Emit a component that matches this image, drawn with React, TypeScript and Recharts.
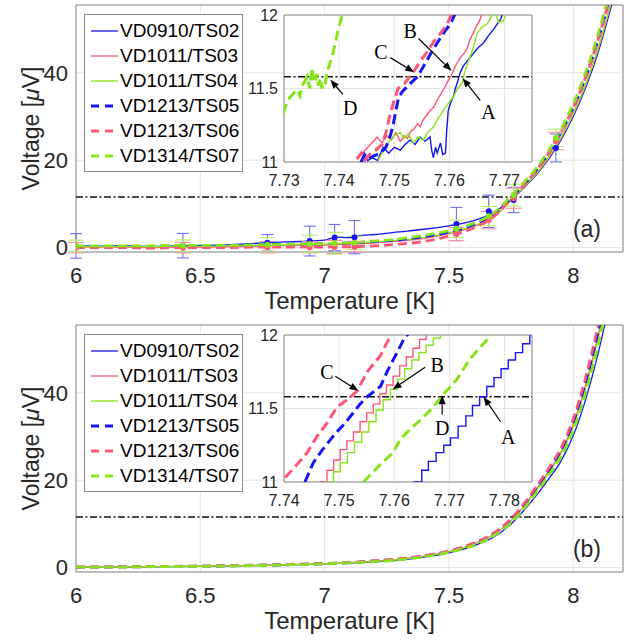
import React from "react"
import {
  ComposedChart,
  Line,
  Scatter,
  ErrorBar,
  XAxis,
  YAxis,
  CartesianGrid,
  ReferenceLine,
  ReferenceArea,
  ReferenceDot,
  Legend,
} from "recharts"

const FONT = '"Liberation Sans", Arial, Helvetica, sans-serif'
const SERIF = '"Liberation Serif", "Times New Roman", serif'
const INK = "#262626"
const BLUE = "#1414f5"
const PINK = "#ff5577"
const GREEN = "#86e51a"

const SERIES = [
  { key: "TS02", name: "VD0910/TS02", color: BLUE, dashed: false },
  { key: "TS03", name: "VD1011/TS03", color: PINK, dashed: false },
  { key: "TS04", name: "VD1011/TS04", color: GREEN, dashed: false },
  { key: "TS05", name: "VD1213/TS05", color: BLUE, dashed: true },
  { key: "TS06", name: "VD1213/TS06", color: PINK, dashed: true },
  { key: "TS07", name: "VD1314/TS07", color: GREEN, dashed: true },
]

const THRESHOLD = 11.58

// main panels: temperature grid [K] and voltage [uV]
const TEMP = [6.0, 6.1, 6.2, 6.3, 6.4, 6.5, 6.6, 6.7, 6.8, 6.9, 7.0, 7.05, 7.1, 7.15, 7.2, 7.3, 7.4, 7.5, 7.55, 7.6, 7.65, 7.7, 7.75, 7.8, 7.85, 7.9, 7.95, 8.0, 8.05, 8.1, 8.15, 8.2]

const A_TS02 = [0.4, 0.35, 0.4, 0.3, 0.4, 0.5, 0.6, 0.9, 1.2, 1.4, 1.7, 2.4, 2.3, 2.8, 3.0, 3.6, 4.2, 5.0, 5.5, 6.2, 7.2, 8.8, 10.9, 13.6, 16.6, 20.2, 24.6, 30.0, 36.6, 44.7, 54.6, 66.0]
const A_TS03 = [0.1, 0.1, 0.1, 0.0, 0.1, 0.1, 0.2, 0.3, 0.4, 0.5, 0.6, 0.7, 0.8, 0.9, 1.1, 1.5, 2.1, 3.2, 3.9, 4.8, 6.0, 7.9, 10.9, 13.7, 16.8, 20.5, 25.0, 30.5, 37.2, 45.4, 55.5, 67.0]
const A_TS04 = [0.2, 0.2, 0.25, 0.2, 0.3, 0.3, 0.4, 0.5, 0.6, 0.7, 0.8, 0.9, 1.0, 1.1, 1.3, 1.7, 2.3, 3.4, 4.1, 5.0, 6.2, 8.0, 11.0, 13.8, 16.9, 20.6, 25.1, 30.6, 37.3, 45.5, 55.6, 67.2]
const A_TS05 = [0.3, 0.3, 0.3, 0.3, 0.4, 0.4, 0.5, 0.6, 0.7, 0.8, 0.9, 1.0, 1.1, 1.2, 1.4, 1.8, 2.5, 3.6, 4.3, 5.3, 6.6, 8.6, 11.4, 14.3, 17.6, 21.5, 26.3, 32.0, 39.0, 47.6, 58.0, 70.0]
const A_TS06 = [0.0, 0.0, 0.0, -0.1, 0.0, 0.0, 0.0, 0.1, 0.1, 0.1, 0.1, 0.2, 0.2, 0.3, 0.4, 0.8, 1.4, 2.6, 3.4, 4.5, 5.9, 8.1, 11.3, 14.3, 17.6, 21.5, 26.3, 32.0, 39.0, 47.6, 58.0, 70.0]
const A_TS07 = [0.4, 0.4, 0.4, 0.4, 0.5, 0.5, 0.5, 0.6, 0.7, 0.8, 0.9, 1.1, 1.1, 1.3, 1.5, 2.0, 2.8, 3.9, 4.6, 5.6, 6.9, 8.9, 11.8, 14.8, 18.1, 22.1, 27.0, 32.9, 40.1, 48.9, 59.5, 72.0]

const B_TS02 = [0.1, 0.1, 0.15, 0.2, 0.25, 0.3, 0.35, 0.45, 0.55, 0.7, 0.85, 0.95, 1.05, 1.2, 1.35, 1.75, 2.4, 3.4, 4.1, 5.0, 6.1, 7.7, 10.0, 13.0, 16.4, 20.2, 24.3, 30.2, 38.5, 49.0, 62.0, 78.0]
const B_TS03 = [0.12, 0.12, 0.17, 0.22, 0.27, 0.33, 0.4, 0.5, 0.6, 0.75, 0.9, 1.0, 1.12, 1.28, 1.45, 1.9, 2.6, 3.65, 4.4, 5.4, 6.65, 8.4, 10.8, 14.0, 17.8, 21.9, 26.4, 32.8, 41.8, 53.0, 67.0, 84.0]
const B_TS04 = [0.1, 0.12, 0.16, 0.21, 0.26, 0.32, 0.38, 0.48, 0.58, 0.72, 0.88, 0.98, 1.1, 1.25, 1.42, 1.85, 2.55, 3.6, 4.35, 5.3, 6.55, 8.3, 10.7, 13.8, 17.5, 21.6, 26.0, 32.3, 41.2, 52.3, 66.0, 83.0]
const B_TS05 = [0.1, 0.12, 0.18, 0.22, 0.28, 0.33, 0.4, 0.5, 0.6, 0.75, 0.9, 1.0, 1.15, 1.3, 1.5, 1.95, 2.65, 3.7, 4.5, 5.5, 6.8, 8.5, 11.0, 14.3, 18.1, 22.2, 26.8, 33.3, 42.5, 54.0, 68.0, 85.0]
const B_TS06 = [0.15, 0.15, 0.2, 0.25, 0.3, 0.35, 0.45, 0.55, 0.65, 0.8, 0.95, 1.05, 1.2, 1.35, 1.55, 2.0, 2.7, 3.8, 4.6, 5.6, 6.9, 8.7, 11.2, 14.5, 18.4, 22.6, 27.3, 34.0, 43.5, 55.5, 70.0, 88.0]
const B_TS07 = [0.1, 0.1, 0.15, 0.2, 0.25, 0.3, 0.36, 0.46, 0.56, 0.7, 0.86, 0.96, 1.08, 1.22, 1.38, 1.8, 2.45, 3.5, 4.2, 5.1, 6.3, 8.0, 10.3, 13.4, 17.0, 21.0, 25.3, 31.4, 40.0, 51.0, 64.0, 80.0]

// error bars, panel (a)
const ERR_T = [6.0, 6.43, 6.77, 6.94, 7.04, 7.12, 7.53, 7.66, 7.76, 7.93]
const ERR_TS02_V = [0.4, 0.45, 1.1, 1.5, 2.3, 2.4, 5.4, 8.3, 10.9, 22.8]
const ERR_TS02_E = [2.8, 2.8, 1.9, 3.4, 3.0, 3.8, 3.8, 3.7, 2.9, 3.2]
const ERR_TS06_V = [0.0, 0.0, 0.1, 0.1, 0.15, 0.2, 3.1, 6.3, 11.3, 24.4]
const ERR_TS06_E = [1.2, 1.2, 1.3, 1.3, 1.5, 1.2, 1.5, 2.0, 2.3, 2.0]
const ERR_TS07_V = [0.4, 0.45, 0.65, 0.85, 1.0, 1.1, 4.3, 7.2, 12.0, 25.1]
const ERR_TS07_E = [1.3, 1.3, 1.6, 2.0, 2.5, 1.5, 2.0, 2.2, 2.5, 2.0]

// inset (a): [temperature, voltage]
const IA_TS02 = [[7.7438, 11.0], [7.7445, 11.04], [7.7452, 11.01], [7.746, 11.03], [7.747, 11.01], [7.748, 11.1], [7.749, 11.06], [7.75, 11.1], [7.7511, 11.08], [7.752, 11.12], [7.7529, 11.15], [7.7538, 11.12], [7.7547, 11.17], [7.7556, 11.14], [7.7565, 11.17], [7.7568, 11.08], [7.7571, 11.03], [7.7575, 11.1], [7.7578, 11.06], [7.7584, 11.13], [7.7588, 11.05], [7.7593, 11.06], [7.7595, 11.2], [7.7598, 11.35], [7.7602, 11.4], [7.7607, 11.44], [7.7611, 11.5], [7.7616, 11.56], [7.762, 11.61], [7.7625, 11.65], [7.7635, 11.7], [7.7644, 11.74], [7.7653, 11.78], [7.7662, 11.81], [7.7671, 11.86], [7.768, 11.9], [7.7687, 11.94], [7.7693, 11.97], [7.7698, 12.02]]
const IA_TS03 = [[7.7433, 11.03], [7.7442, 11.06], [7.7452, 11.1], [7.7462, 11.14], [7.7469, 11.17], [7.7478, 11.13], [7.7487, 11.18], [7.7495, 11.15], [7.7503, 11.2], [7.7511, 11.14], [7.7518, 11.18], [7.7524, 11.16], [7.753, 11.21], [7.7535, 11.22], [7.7542, 11.26], [7.7547, 11.24], [7.7553, 11.29], [7.7559, 11.32], [7.7565, 11.35], [7.7571, 11.37], [7.7578, 11.42], [7.7584, 11.46], [7.7589, 11.49], [7.7596, 11.54], [7.7605, 11.6], [7.7612, 11.66], [7.762, 11.71], [7.7627, 11.74], [7.7633, 11.78], [7.7638, 11.84], [7.7644, 11.88], [7.765, 11.93], [7.7656, 11.97], [7.766, 12.02]]
const IA_TS04 = [[7.7471, 11.01], [7.7478, 11.06], [7.7485, 11.12], [7.7493, 11.15], [7.75, 11.18], [7.7511, 11.2], [7.7518, 11.16], [7.7525, 11.19], [7.7535, 11.13], [7.7543, 11.17], [7.7553, 11.15], [7.756, 11.2], [7.7566, 11.22], [7.7571, 11.24], [7.758, 11.3], [7.7589, 11.35], [7.7598, 11.4], [7.7607, 11.44], [7.7615, 11.5], [7.7624, 11.54], [7.7627, 11.6], [7.7633, 11.67], [7.7642, 11.76], [7.7651, 11.88], [7.766, 11.92], [7.7669, 11.94], [7.7675, 11.98], [7.768, 12.04], [7.769, 11.95], [7.7698, 11.96], [7.7702, 12.0], [7.7706, 12.05]]
const IA_TS05 = [[7.744, 11.0], [7.7446, 11.05], [7.7452, 11.02], [7.7462, 11.04], [7.7475, 11.06], [7.7485, 11.1], [7.7493, 11.18], [7.7498, 11.25], [7.7503, 11.35], [7.7508, 11.44], [7.7515, 11.48], [7.7528, 11.53], [7.7542, 11.58], [7.7553, 11.65], [7.7565, 11.73], [7.7578, 11.81], [7.759, 11.88], [7.7602, 11.94], [7.7612, 12.02]]
const IA_TS06 = [[7.7432, 11.02], [7.744, 11.06], [7.7446, 11.01], [7.7455, 11.05], [7.7466, 11.08], [7.7478, 11.12], [7.7485, 11.2], [7.7493, 11.33], [7.75, 11.42], [7.7507, 11.5], [7.7518, 11.53], [7.7528, 11.58], [7.7538, 11.63], [7.755, 11.7], [7.756, 11.75], [7.7572, 11.82], [7.7585, 11.88], [7.7596, 11.94], [7.7606, 12.02]]
const IA_TS07 = [[7.7299, 11.33], [7.7305, 11.4], [7.7311, 11.44], [7.7318, 11.47], [7.7324, 11.49], [7.7329, 11.45], [7.7333, 11.52], [7.7338, 11.55], [7.7342, 11.58], [7.7347, 11.5], [7.7351, 11.64], [7.7354, 11.56], [7.7356, 11.54], [7.736, 11.6], [7.7362, 11.52], [7.7366, 11.57], [7.7369, 11.5], [7.7372, 11.55], [7.7375, 11.54], [7.7378, 11.6], [7.738, 11.63], [7.7384, 11.68], [7.7387, 11.71], [7.739, 11.76], [7.7393, 11.81], [7.7396, 11.86], [7.7398, 11.9], [7.7402, 11.95], [7.7405, 11.99], [7.7408, 12.05]]

// inset (b)
const IB_TS02 = [[7.7635, 11.0], [7.765, 11.08], [7.7662, 11.14], [7.7676, 11.2], [7.769, 11.25], [7.7702, 11.3], [7.7716, 11.38], [7.773, 11.45], [7.7742, 11.52], [7.7755, 11.58], [7.7768, 11.65], [7.7781, 11.71], [7.7794, 11.77], [7.7807, 11.83], [7.782, 11.88], [7.7833, 11.94], [7.7846, 12.0]]
const IB_TS03 = [[7.7465, 11.0], [7.7478, 11.08], [7.749, 11.15], [7.7502, 11.22], [7.7514, 11.28], [7.7526, 11.34], [7.7538, 11.41], [7.755, 11.47], [7.7562, 11.53], [7.7574, 11.6], [7.7586, 11.66], [7.7598, 11.72], [7.761, 11.79], [7.7622, 11.85], [7.7634, 11.91], [7.7646, 11.97], [7.7658, 12.03]]
const IB_TS04 = [[7.7478, 11.0], [7.749, 11.07], [7.7502, 11.13], [7.7515, 11.2], [7.7528, 11.27], [7.7541, 11.34], [7.7554, 11.41], [7.7567, 11.49], [7.758, 11.56], [7.7593, 11.63], [7.7606, 11.7], [7.7619, 11.77], [7.7632, 11.83], [7.7645, 11.88], [7.7658, 11.93], [7.7671, 11.98], [7.7684, 12.03]]
const IB_TS05 = [[7.7438, 11.0], [7.7453, 11.13], [7.747, 11.22], [7.7489, 11.31], [7.7515, 11.42], [7.7538, 11.53], [7.7551, 11.58], [7.7575, 11.65], [7.7587, 11.75], [7.7605, 11.88], [7.762, 11.99], [7.764, 12.05]]
const IB_TS06 = [[7.7402, 11.03], [7.7424, 11.12], [7.7442, 11.2], [7.746, 11.31], [7.7478, 11.4], [7.7496, 11.51], [7.7515, 11.56], [7.7533, 11.62], [7.7551, 11.75], [7.7575, 11.86], [7.7587, 11.95], [7.7598, 12.02]]
const IB_TS07 = [[7.7544, 11.0], [7.7575, 11.12], [7.7598, 11.2], [7.7611, 11.29], [7.7629, 11.36], [7.7647, 11.42], [7.7671, 11.51], [7.769, 11.6], [7.7714, 11.7], [7.7738, 11.84], [7.7769, 11.97], [7.778, 12.02]]

// arrows and letters in the insets: tail, head, letter position (data coords)
const CALLOUTS_A = [
  { id: "C", tail: [7.7493, 11.71], head: [7.7536, 11.61], text: [7.7476, 11.75] },
  { id: "B", tail: [7.7544, 11.84], head: [7.7604, 11.62], text: [7.7529, 11.89] },
  { id: "A", tail: [7.7656, 11.42], head: [7.7624, 11.57], text: [7.7671, 11.34] },
  { id: "D", tail: [7.7407, 11.46], head: [7.7384, 11.56], text: [7.742, 11.37] },
]
const CALLOUTS_B = [
  { id: "C", tail: [7.7493, 11.72], head: [7.7535, 11.62], text: [7.7478, 11.75] },
  { id: "B", tail: [7.7656, 11.78], head: [7.7597, 11.63], text: [7.7678, 11.8] },
  { id: "D", tail: [7.7687, 11.46], head: [7.7687, 11.59], text: [7.7687, 11.37] },
  { id: "A", tail: [7.7793, 11.41], head: [7.7762, 11.58], text: [7.7807, 11.31] },
]

const toRows = (vals: number[]) => TEMP.map((t, i) => ({ t, v: vals[i] }))
const toPts = (pairs: number[][]) => pairs.map(([t, v]) => ({ t, v }))

const PANEL_A = {
  tag: "(a)",
  main: [A_TS02, A_TS03, A_TS04, A_TS05, A_TS06, A_TS07].map(toRows),
  inset: [IA_TS02, IA_TS03, IA_TS04, IA_TS05, IA_TS06, IA_TS07].map(toPts),
  insetDomain: [7.73, 7.775],
  insetTicks: [7.73, 7.74, 7.75, 7.76, 7.77],
  callouts: CALLOUTS_A,
  steps: false,
  errors: [
    { color: BLUE, bar: "#6f6ff8", cap: 6, rows: ERR_T.map((t, i) => ({ t, v: ERR_TS02_V[i], e: ERR_TS02_E[i] })) },
    { color: PINK, bar: "#ff90a6", cap: 8, rows: ERR_T.map((t, i) => ({ t, v: ERR_TS06_V[i], e: ERR_TS06_E[i] })) },
    { color: GREEN, bar: "#b2ee6a", cap: 8, rows: ERR_T.map((t, i) => ({ t, v: ERR_TS07_V[i], e: ERR_TS07_E[i] })) },
  ],
}

const PANEL_B = {
  tag: "(b)",
  main: [B_TS02, B_TS03, B_TS04, B_TS05, B_TS06, B_TS07].map(toRows),
  inset: [IB_TS02, IB_TS03, IB_TS04, IB_TS05, IB_TS06, IB_TS07].map(toPts),
  insetDomain: [7.74, 7.785],
  insetTicks: [7.74, 7.75, 7.76, 7.77, 7.78],
  callouts: CALLOUTS_B,
  steps: true,
  errors: [],
}

const arrowShape = (p: any) => {
  const { x1, y1, x2, y2 } = p
  const a = Math.atan2(y2 - y1, x2 - x1)
  const len = 9
  const half = 3.5
  const bx = x2 - len * Math.cos(a)
  const by = y2 - len * Math.sin(a)
  const pts = `${x2},${y2} ${bx + half * Math.sin(a)},${by - half * Math.cos(a)} ${bx - half * Math.sin(a)},${by + half * Math.cos(a)}`
  return (
    <g>
      <line x1={x1} y1={y1} x2={bx} y2={by} stroke="#000" strokeWidth={1.2} />
      <polygon points={pts} fill="#000" />
    </g>
  )
}

const VoltageLabel = (props: any) => {
  const vb = props.viewBox || { x: 16, y: 5, width: 60, height: 247 }
  const cx = vb.x + 15
  const cy = vb.y + vb.height / 2
  return (
    <text
      x={cx}
      y={cy}
      transform={`rotate(-90 ${cx} ${cy})`}
      textAnchor="middle"
      dominantBaseline="central"
      fontSize={23}
      fill={INK}
      fontFamily={FONT}
    >
      Voltage [<tspan fontStyle="italic">μ</tspan>V]
    </text>
  )
}

const LegendBox = () => (
  <div
    style={{
      width: 157,
      border: "1px solid #8a8a8a",
      background: "#fff",
      padding: "3px 0",
      fontFamily: FONT,
      fontSize: 19,
      color: "#000",
    }}
  >
    {SERIES.map((s) => (
      <div key={s.key} style={{ height: 25, display: "flex", alignItems: "center" }}>
        <svg width={36} height={10} style={{ marginLeft: 5 }}>
          <line
            x1={1}
            y1={5}
            x2={28}
            y2={5}
            stroke={s.color}
            strokeWidth={s.dashed ? 3 : 1.3}
            strokeDasharray={s.dashed ? "8 6" : undefined}
          />
        </svg>
        <span style={{ marginLeft: -6, lineHeight: "25px" }}>{s.name}</span>
      </div>
    ))}
  </div>
)

const tickStyle = { fontSize: 22, fill: INK, fontFamily: FONT }
const insetTickStyle = { fontSize: 16, fill: INK, fontFamily: FONT }

function Panel({ panel }: { panel: any }) {
  return (
    <div style={{ position: "relative", width: 635, height: 320 }}>
      <ComposedChart width={635} height={320} margin={{ top: 5, right: 12, bottom: 0, left: 16 }}>
        <CartesianGrid stroke="#e4e4e4" />
        <XAxis
          type="number"
          dataKey="t"
          domain={[6, 8.2]}
          ticks={[6, 6.5, 7, 7.5, 8]}
          allowDataOverflow
          axisLine={false}
          tickLine={false}
          height={68}
          tickMargin={9}
          tick={tickStyle}
          label={{ value: "Temperature [K]", position: "insideBottom", offset: 11, fontSize: 24, fill: INK, fontFamily: FONT }}
        />
        <YAxis
          type="number"
          dataKey="v"
          domain={[-1, 55.5]}
          ticks={[0, 20, 40]}
          allowDataOverflow
          axisLine={false}
          tickLine={false}
          width={60}
          tick={tickStyle}
          label={{ content: VoltageLabel }}
        />
        <ReferenceArea x1={6} x2={8.2} y1={-1} y2={55.5} fill="none" stroke="#8a8a8a" ifOverflow="visible" />
        <ReferenceLine y={THRESHOLD} stroke="#111" strokeWidth={1.6} strokeDasharray="7 2.5 2 2.5" />
        {SERIES.map((s, i) => (
          <Line
            key={s.key}
            data={panel.main[i]}
            dataKey="v"
            name={s.name}
            type="monotone"
            stroke={s.color}
            strokeWidth={s.dashed ? 2.8 : 1.3}
            strokeDasharray={s.dashed ? "9 5" : undefined}
            dot={false}
            isAnimationActive={false}
          />
        ))}
        {panel.errors.map((er: any, i: number) => (
          <Scatter
            key={`err-${i}`}
            data={er.rows}
            dataKey="v"
            legendType="none"
            isAnimationActive={false}
            shape={(p: any) => <circle cx={p.cx} cy={p.cy} r={3} fill={er.color} />}
          >
            <ErrorBar dataKey="e" direction="y" width={er.cap} stroke={er.bar} strokeWidth={1.1} />
          </Scatter>
        ))}
        <ReferenceDot
          x={8.055}
          y={4.3}
          r={1}
          fill="none"
          stroke="none"
          label={{ value: panel.tag, position: "center", fontSize: 23, fill: INK, fontFamily: FONT }}
        />
        <Legend
          layout="vertical"
          align="center"
          verticalAlign="middle"
          content={() => <LegendBox />}
          wrapperStyle={{ left: 84, top: 14, width: "auto", height: "auto" }}
        />
      </ComposedChart>

      <div style={{ position: "absolute", left: 244, top: 5 }}>
        <ComposedChart width={300} height={185} margin={{ top: 10, right: 12, bottom: 0, left: 0 }}>
          <CartesianGrid stroke="#e4e4e4" fill="#fff" fillOpacity={1} />
          <XAxis
            type="number"
            dataKey="t"
            domain={panel.insetDomain}
            ticks={panel.insetTicks}
            allowDataOverflow
            axisLine={false}
            tickLine={false}
            height={28}
            tickMargin={7}
            tick={insetTickStyle}
          />
          <YAxis
            type="number"
            dataKey="v"
            domain={[11, 12]}
            ticks={[11, 11.5, 12]}
            allowDataOverflow
            axisLine={false}
            tickLine={false}
            width={40}
            tickSize={4}
            tickMargin={2}
            tick={insetTickStyle}
          />
          <ReferenceArea
            x1={panel.insetDomain[0]}
            x2={panel.insetDomain[1]}
            y1={11}
            y2={12}
            fill="none"
            stroke="#8a8a8a"
            ifOverflow="visible"
          />
          <ReferenceLine y={THRESHOLD} stroke="#111" strokeWidth={1.6} strokeDasharray="7 2.5 2 2.5" />
          {SERIES.map((s, i) => (
            <Line
              key={s.key}
              data={panel.inset[i]}
              dataKey="v"
              name={s.name}
              type={panel.steps && !s.dashed ? "stepAfter" : "linear"}
              stroke={s.color}
              strokeWidth={s.dashed ? 3 : 1.4}
              strokeDasharray={s.dashed ? "10 5" : undefined}
              dot={false}
              isAnimationActive={false}
            />
          ))}
          {panel.callouts.map((c: any) => (
            <ReferenceLine
              key={`arrow-${c.id}`}
              segment={[
                { x: c.tail[0], y: c.tail[1] },
                { x: c.head[0], y: c.head[1] },
              ]}
              ifOverflow="visible"
              shape={arrowShape}
            />
          ))}
          {panel.callouts.map((c: any) => (
            <ReferenceDot
              key={`label-${c.id}`}
              x={c.text[0]}
              y={c.text[1]}
              r={1}
              fill="none"
              stroke="none"
              ifOverflow="visible"
              label={{ value: c.id, position: "center", fontSize: 20, fill: "#000", fontFamily: SERIF }}
            />
          ))}
        </ComposedChart>
      </div>
    </div>
  )
}

export default function App() {
  return (
    <div style={{ position: "absolute", left: 0, top: 0, width: 635, height: 643, background: "#fff" }}>
      <Panel panel={PANEL_A} />
      <Panel panel={PANEL_B} />
    </div>
  )
}
